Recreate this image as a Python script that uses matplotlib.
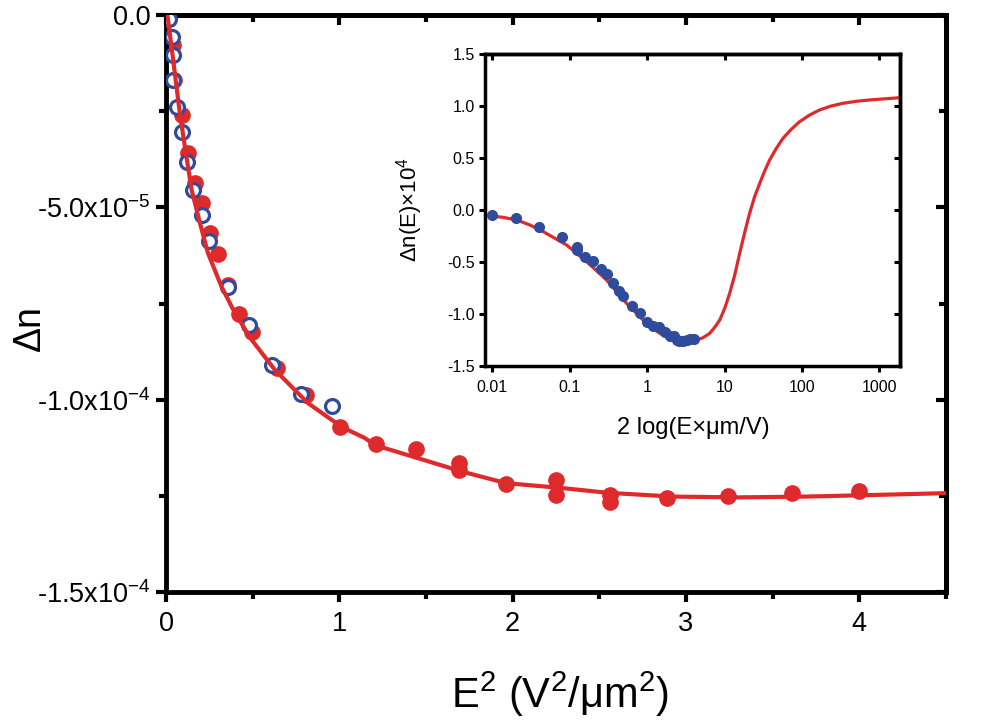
import matplotlib
matplotlib.use("Agg")
import matplotlib.pyplot as plt
from matplotlib.ticker import FixedLocator, FixedFormatter, NullLocator

plt.rcParams['font.family'] = ['Liberation Sans', 'DejaVu Sans']
plt.rcParams['mathtext.fontset'] = 'custom'
plt.rcParams['mathtext.rm'] = 'Liberation Sans'
plt.rcParams['mathtext.it'] = 'Liberation Sans'

RED = '#df2a2c'
BLUE = '#2f4b9b'

# main plot: E^2 (V^2/um^2) vs delta n (x 1e-5)
red_x = [0.04, 0.046, 0.09, 0.127, 0.167, 0.206, 0.254, 0.300, 0.358, 0.421,
         0.494, 0.639, 0.81, 1.004, 1.21, 1.44, 1.69, 1.69, 1.96, 2.25, 2.25,
         2.56, 2.56, 2.89, 3.24, 3.61, 4.0]
red_y = [-0.78, -1.69, -2.60, -3.59, -4.37, -4.89, -5.67, -6.21, -7.02, -7.78,
         -8.24, -9.18, -9.88, -10.70, -11.15, -11.28, -11.64, -11.83, -12.19,
         -12.09, -12.48, -12.48, -12.65, -12.56, -12.51, -12.43, -12.38]

blue_x = [0.015, 0.033, 0.042, 0.042, 0.063, 0.09, 0.12, 0.158, 0.206, 0.248,
          0.356, 0.479, 0.612, 0.779, 0.958]
blue_y = [-0.10, -0.56, -1.04, -1.69, -2.39, -3.03, -3.81, -4.55, -5.20, -5.88,
          -7.07, -8.06, -9.10, -9.85, -10.17]

fit_x = [0.008, 0.04, 0.081, 0.12, 0.148, 0.196, 0.242, 0.321, 0.398, 0.495,
         0.629, 0.819, 1.014, 1.148, 1.204, 1.708, 1.962, 2.291, 2.545, 2.926,
         3.304, 3.681, 4.062, 4.5]
fit_y = [0.0, -1.12, -2.60, -3.75, -4.55, -5.41, -6.19, -7.07, -7.75, -8.45,
         -9.23, -10.09, -10.71, -11.00, -11.18, -11.87, -12.17, -12.30, -12.42,
         -12.52, -12.54, -12.52, -12.48, -12.43]

# inset: 2 log(E um/V) vs delta n x 1e4
ins_x = [0.01, 0.02, 0.04, 0.08, 0.123, 0.123, 0.16, 0.2, 0.253, 0.305, 0.364,
         0.431, 0.49, 0.64, 0.805, 1.0, 1.195, 1.43, 1.69, 1.96, 2.23, 2.44,
         2.56, 2.89, 3.24, 3.61, 4.0]
ins_y = [-0.048, -0.074, -0.16, -0.257, -0.359, -0.385, -0.449, -0.487, -0.571,
         -0.619, -0.699, -0.776, -0.824, -0.92, -0.994, -1.074, -1.112, -1.128,
         -1.17, -1.21, -1.208, -1.25, -1.26, -1.256, -1.251, -1.243, -1.238]

ins_fit_x = [0.0093, 0.0139, 0.0206, 0.0306, 0.0455, 0.0644, 0.0912, 0.1228,
             0.165, 0.222, 0.299, 0.403, 0.542, 0.694, 0.888, 1.14, 1.46, 1.87,
             2.39, 3.2, 4.34, 5.28, 6.44, 7.48, 8.67, 10.06, 11.67, 13.55, 15.7,
             18.2, 21.1, 24.5, 28.5, 33.0, 38.3, 46.7, 56.9, 72.9, 93.3, 125.6,
             169, 239, 338, 503, 746, 1227, 1850]
ins_fit_y = [-0.055, -0.071, -0.096, -0.144, -0.208, -0.272, -0.337, -0.417,
             -0.497, -0.583, -0.673, -0.785, -0.897, -0.978, -1.058, -1.128,
             -1.186, -1.228, -1.266, -1.28, -1.25, -1.228, -1.186, -1.128,
             -1.058, -0.946, -0.80, -0.625, -0.417, -0.218, -0.032, 0.128,
             0.256, 0.375, 0.481, 0.593, 0.689, 0.776, 0.849, 0.913, 0.962,
             1.0, 1.026, 1.045, 1.058, 1.07, 1.08]

fig = plt.figure(figsize=(9.88, 7.2), dpi=100)
ax = fig.add_axes([166/988, 1-592/720, 780/988, 577/720])

ax.plot(red_x, [v*1e-5 for v in red_y], 'o', color=RED, ms=11, mec=RED, zorder=2)
ax.plot(blue_x, [v*1e-5 for v in blue_y], 'o', mfc='white', mec=BLUE, ms=10, mew=2.3, zorder=3)
ax.plot(fit_x, [v*1e-5 for v in fit_y], '-', color=RED, lw=3, zorder=4)

ax.set_xlim(0, 4.5)
ax.set_ylim(-1.5e-4, 0)
ax.xaxis.set_major_locator(FixedLocator([0, 1, 2, 3, 4]))
ax.xaxis.set_minor_locator(FixedLocator([0.5, 1.5, 2.5, 3.5, 4.5]))
ax.yaxis.set_major_locator(FixedLocator([-1.5e-4, -1.0e-4, -5e-5, 0]))
ax.yaxis.set_minor_locator(FixedLocator([-1.25e-4, -7.5e-5, -2.5e-5]))
ax.yaxis.set_major_formatter(FixedFormatter(
    ['-1.5x10$^{-4}$', '-1.0x10$^{-4}$', '-5.0x10$^{-5}$', '0.0']))
ax.set_xticklabels(['0', '1', '2', '3', '4'])

for s in ax.spines.values():
    s.set_linewidth(3.5)
ax.tick_params(which='both', direction='out', width=3, labelsize=19.5,
               top=False, right=False)
ax.tick_params(which='major', length=7)
ax.tick_params(which='minor', length=5)
ax.tick_params(axis='x', pad=7)
ax.tick_params(axis='y', pad=4)

# inward ticks on top and right
axt = ax.secondary_xaxis('top')
axt.xaxis.set_major_locator(FixedLocator([0, 1, 2, 3, 4]))
axt.xaxis.set_minor_locator(FixedLocator([0.5, 1.5, 2.5, 3.5, 4.5]))
axt.tick_params(which='both', direction='in', width=3, labeltop=False)
axt.tick_params(which='major', length=7)
axt.tick_params(which='minor', length=5)
axt.spines['top'].set_linewidth(3.5)
axr = ax.secondary_yaxis('right')
axr.yaxis.set_major_locator(FixedLocator([-1.5e-4, -1.0e-4, -5e-5, 0]))
axr.yaxis.set_minor_locator(FixedLocator([-1.25e-4, -7.5e-5, -2.5e-5]))
axr.tick_params(which='both', direction='in', width=3, labelright=False)
axr.tick_params(which='major', length=7)
axr.tick_params(which='minor', length=5)
axr.spines['right'].set_linewidth(3.5)

ax.set_xlabel('E$^{2}$ (V$^{2}$/\u03bcm$^{2}$)', fontsize=30)
ax.set_ylabel('\u0394n', fontsize=27)
ax.xaxis.set_label_coords(0.505, -0.135)
ax.yaxis.set_label_coords(-0.151, 0.458)

# inset
ins = fig.add_axes([485/988, 1-366/720, 415/988, 312/720])
ins.plot(ins_fit_x, ins_fit_y, '-', color=RED, lw=2.3, zorder=2)
ins.plot(ins_x, ins_y, 'o', color=BLUE, ms=7, zorder=3)
ins.set_xscale('log')
ins.set_xlim(0.00805, 1850)
ins.set_ylim(-1.5, 1.5)
ins.xaxis.set_major_locator(FixedLocator([0.01, 0.1, 1, 10, 100, 1000]))
ins.xaxis.set_minor_locator(NullLocator())
ins.xaxis.set_major_formatter(FixedFormatter(['0.01', '0.1', '1', '10', '100', '1000']))
ins.yaxis.set_major_locator(FixedLocator([-1.5, -1.0, -0.5, 0.0, 0.5, 1.0, 1.5]))
ins.yaxis.set_major_formatter(FixedFormatter(['-1.5', '-1.0', '-0.5', '0.0', '0.5', '1.0', '1.5']))
for s in ins.spines.values():
    s.set_linewidth(2.5)
ins.tick_params(direction='out', length=4, width=2.2, labelsize=11.5)
ins.tick_params(axis='x', pad=6)

inst = ins.secondary_xaxis('top')
inst.xaxis.set_major_locator(FixedLocator([0.01, 0.1, 1, 10, 100, 1000]))
inst.xaxis.set_minor_locator(NullLocator())
inst.tick_params(direction='in', length=4, width=2.2, labeltop=False)
inst.spines['top'].set_linewidth(2.5)
insr = ins.secondary_yaxis('right')
insr.yaxis.set_major_locator(FixedLocator([-1.5, -1.0, -0.5, 0.0, 0.5, 1.0, 1.5]))
insr.tick_params(direction='in', length=4, width=2.2, labelright=False)
insr.spines['right'].set_linewidth(2.5)

ins.set_xlabel('2 log(E\u00d7\u03bcm/V)', fontsize=17)
ins.set_ylabel('\u0394n(E)\u00d710$^{4}$', fontsize=16)
ins.xaxis.set_label_coords(0.501, -0.163)
ins.yaxis.set_label_coords(-0.145, 0.5)

fig.savefig('out.png', dpi=100)
